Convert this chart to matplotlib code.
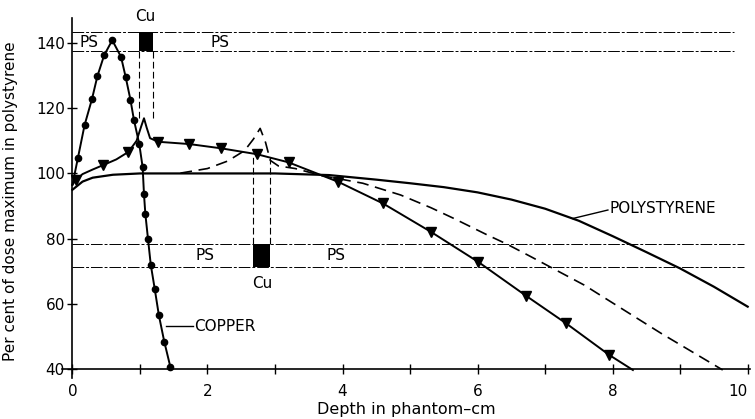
import numpy as np
import matplotlib
matplotlib.use("Agg")
import matplotlib.pyplot as plt

# ---- data (depth in cm, percent of dose max) ----
copper_x = [0.0, 0.08, 0.18, 0.29, 0.37, 0.47, 0.59, 0.72, 0.79, 0.86, 0.91,
            0.99, 1.04, 1.06, 1.08, 1.12, 1.16, 1.22, 1.28, 1.36, 1.45]
copper_y = [96.5, 104.6, 114.8, 122.8, 129.8, 136.2, 140.8, 135.7, 129.4, 122.5,
            116.5, 109.0, 101.9, 93.6, 87.6, 79.8, 72.1, 64.5, 56.6, 48.5, 40.8]

# copper slab at 1 cm, measured (triangles)
cu1_x = [0.0, 0.05, 0.15, 0.3, 0.46, 0.65, 0.83, 0.95, 1.02, 1.06, 1.1, 1.15,
         1.27, 1.73, 2.2, 2.73, 3.2, 3.94, 4.6, 5.31, 6.01, 6.72, 7.31, 7.95, 8.3]
cu1_y = [96.5, 98.0, 99.8, 101.2, 102.6, 104.3, 106.6, 110.0, 114.5, 116.9,
         114.0, 110.8, 109.7, 109.0, 107.7, 105.9, 103.4, 97.4, 90.8, 82.1,
         72.9, 62.5, 54.1, 44.4, 39.8]
cu1_mark_x = [0.05, 0.46, 0.83, 1.27, 1.73, 2.2, 2.73, 3.2, 3.94, 4.6, 5.31,
              6.01, 6.72, 7.31, 7.95]

# homogeneous polystyrene
ps_x = [0.0, 0.15, 0.3, 0.6, 1.0, 2.0, 3.0, 3.8, 4.5, 5.0, 5.5, 6.0, 6.5,
        7.0, 7.5, 8.0, 8.5, 9.0, 9.5, 10.0]
ps_y = [95.0, 97.5, 98.7, 99.6, 100.0, 100.0, 100.0, 99.5, 98.1, 97.0, 95.8,
        94.2, 92.0, 89.2, 85.5, 80.8, 75.9, 70.9, 65.3, 59.2]

# copper slab at ~2.8 cm (dashed)
cu3_x = [1.6, 2.0, 2.3, 2.55, 2.68, 2.78, 2.86, 2.93, 3.05, 3.3, 3.7, 4.3,
         4.86, 5.31, 5.65, 6.15, 6.44, 6.79, 7.58, 8.72, 9.63]
cu3_y = [100.1, 101.5, 103.8, 107.0, 110.5, 113.8, 109.5, 104.0, 102.3, 101.5,
         99.3, 97.0, 93.4, 89.5, 86.2, 81.1, 78.3, 74.5, 65.8, 51.0, 39.8]

# slab outlines: (x_left, x_right, y_low, y_high, x_end_of_lines, y_stop_of_drop)
slab_top = (0.98, 1.19, 137.6, 143.2, 9.8, 117.0)
slab_low = (2.68, 2.92, 71.4, 78.5, 9.95, 106.0)

x_ticks = list(range(0, 11))
x_labels = ["0", "", "2", "", "4", "", "6", "", "8", "", "10"]
y_ticks = [40, 60, 80, 100, 120, 140]

plt.rcParams["font.family"] = ["DejaVu Sans"]

fig = plt.figure(figsize=(7.55, 4.19), dpi=100)
ax = fig.add_axes([0.0825, 0.099, 0.9105, 0.858])

for sp in ("top", "right"):
    ax.spines[sp].set_visible(False)
ax.spines["left"].set_position(("data", 0))
ax.spines["bottom"].set_position(("data", 40))
ax.spines["left"].set_linewidth(1.2)
ax.spines["bottom"].set_linewidth(1.2)

# slabs + phantom boundary lines
dash = (0, (12, 2, 3, 2))
for xl, xr, ylo, yhi, xend, ydrop in (slab_top, slab_low):
    for yy in (ylo, yhi):
        ax.plot([0, xend], [yy, yy], color="black", lw=0.7, ls=dash)
    ax.fill_between([xl, xr], ylo, yhi, color="black", lw=0)
    for xx in (xl, xr):
        if ydrop > yhi:
            ax.plot([xx, xx], [yhi, ydrop], color="black", lw=0.8, ls=(0, (6, 3)))
        else:
            ax.plot([xx, xx], [ydrop, ylo], color="black", lw=0.8, ls=(0, (6, 3)))

ax.plot(ps_x, ps_y, color="black", lw=1.6)
ax.plot(cu3_x, cu3_y, color="black", lw=1.2, ls=(0, (7, 4)))
ax.plot(cu1_x, cu1_y, color="black", lw=1.4)
ax.plot(cu1_mark_x, np.interp(cu1_mark_x, cu1_x, cu1_y), ls="none",
        marker="v", ms=7, color="black")
ax.plot(copper_x, copper_y, color="black", lw=1.4)
ax.plot(copper_x[1:], copper_y[1:], ls="none", marker="o", ms=4.5, color="black")

# text labels
fs = 11
ax.text(0.25, 140, "PS", ha="center", va="center", fontsize=fs)
ax.text(2.19, 140, "PS", ha="center", va="center", fontsize=fs)
ax.text(1.08, 148.2, "Cu", ha="center", va="center", fontsize=fs)
ax.text(1.97, 74.8, "PS", ha="center", va="center", fontsize=fs)
ax.text(3.9, 74.8, "PS", ha="center", va="center", fontsize=fs)
ax.text(2.81, 66.3, "Cu", ha="center", va="center", fontsize=fs)
ax.plot([1.39, 1.78], [53.2, 53.2], color="black", lw=1.0)
ax.text(1.8, 53.2, "COPPER", ha="left", va="center", fontsize=fs)
ax.plot([7.41, 7.93], [86.2, 88.8], color="black", lw=1.0)
ax.text(7.95, 89.3, "POLYSTYRENE", ha="left", va="center", fontsize=fs)

ax.set_xlim(-0.15, 10.03)
ax.set_ylim(37.5, 147.6)
ax.set_xticks(x_ticks)
ax.set_xticklabels(x_labels)
ax.set_yticks(y_ticks)
ax.tick_params(axis="both", direction="inout", length=7, width=1.0,
               labelsize=11)
ax.tick_params(axis="x", pad=7)
ax.tick_params(axis="y", pad=2)
# last label sits at the figure edge; keep it inside
ax.get_xticklabels()[-1].set_horizontalalignment("right")
ax.set_xlabel("Depth in phantom\u2013cm", fontsize=11.5, labelpad=2)
ax.set_ylabel("Per cent of dose maximum in polystyrene", fontsize=11)
ax.yaxis.set_label_coords(-0.064, 0.49)

fig.savefig("out.png", dpi=100)
